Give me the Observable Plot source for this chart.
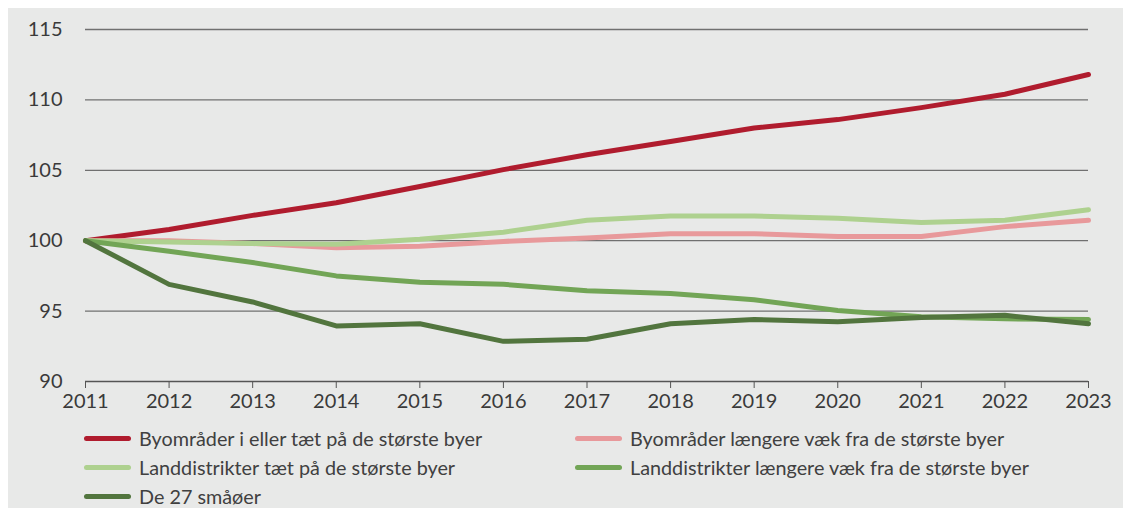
<!DOCTYPE html>
<html><head><meta charset="utf-8">
<script src="https://cdn.jsdelivr.net/npm/d3@7"></script>
<script src="https://cdn.jsdelivr.net/npm/@observablehq/plot@0.6"></script>
<style>
body{margin:0;background:#fff;font-family:Lato,"Noto Sans",sans-serif;}
#wrap{position:absolute;left:8px;top:8px;width:1115px;height:500px;background:#e8e9e8;}
#chart{position:absolute;left:0;top:0;}
.leg{position:absolute;font-size:19.8px;color:#404040;display:flex;align-items:center;white-space:nowrap;}
.leg span.sw{display:inline-block;width:47px;height:5px;border-radius:3px;margin-right:8px;}
</style></head><body>
<div id="wrap"><div id="chart"></div><div id="legend"></div></div>
<script>
const years = [2011,2012,2013,2014,2015,2016,2017,2018,2019,2020,2021,2022,2023];
const seriesNames = [
  "Byområder i eller tæt på de største byer",
  "Byområder længere væk fra de største byer",
  "Landdistrikter tæt på de største byer",
  "Landdistrikter længere væk fra de største byer",
  "De 27 småøer"
];
const colors = ["#b01c2e","#e8999b","#aed18f","#72a556","#52753e"];
const byNear   = [100,100.8,101.8,102.7,103.85,105.05,106.1,107.05,108.0,108.6,109.45,110.4,111.8];
const byFar    = [100,100.0,99.8,99.5,99.6,99.95,100.2,100.5,100.5,100.3,100.3,101.0,101.45];
const landNear = [100,99.9,99.8,99.75,100.1,100.6,101.45,101.75,101.75,101.6,101.3,101.45,102.2];
const landFar  = [100,99.25,98.45,97.5,97.05,96.9,96.45,96.25,95.8,95.05,94.6,94.45,94.4];
const islands  = [100,96.9,95.65,93.95,94.1,92.85,93.0,94.1,94.4,94.25,94.55,94.7,94.1];
const yTicks = [90,95,100,105,110,115];

const allSeries = [byNear, byFar, landNear, landFar, islands];
const data = [];
allSeries.forEach((vals,i)=>vals.forEach((v,j)=>data.push({series:seriesNames[i], year:years[j], value:v})));

const W = 1115, H = 420;
const chart = Plot.plot({
  width: W, height: H,
  marginLeft: 77, marginRight: 35, marginTop: 21, marginBottom: 47,
  style: {background:"transparent", fontFamily:"Lato, 'Noto Sans', sans-serif", fontSize:"20px", color:"#3a3a3a"},
  x: {type:"linear", domain:[2011,2023], label:null},
  y: {domain:[90,115], label:null},
  color: {domain: seriesNames, range: colors},
  marks: [
    Plot.ruleY(yTicks.filter(d=>d>90), {stroke:"#707070", strokeWidth:1.3}),
    Plot.ruleY([90], {stroke:"#555", strokeWidth:1.3}),
    Plot.axisY(yTicks, {tickSize:0, tickPadding:23, fill:"#3a3a3a", fontSize:20}),
    Plot.axisX(years, {tickSize:7, tickPadding:5, stroke:"#555", fill:"#3a3a3a", tickFormat:d=>String(d), fontSize:20}),
    Plot.line(data, {x:"year", y:"value", z:"series", stroke:"series", strokeWidth:5, strokeLinecap:"round", strokeLinejoin:"round"})
  ]
});
document.getElementById("chart").appendChild(chart);

const legend = document.getElementById("legend");
const pos = [[76,430],[567,430],[76,459],[567,459],[76,488]];
seriesNames.forEach((n,i)=>{
  const d = document.createElement("div");
  d.className = "leg";
  d.style.left = pos[i][0]+"px";
  d.style.top = (pos[i][1]-13)+"px";
  d.style.height = "26px";
  d.innerHTML = `<span class="sw" style="background:${colors[i]}"></span>${n}`;
  legend.appendChild(d);
});
</script>
</body></html>
